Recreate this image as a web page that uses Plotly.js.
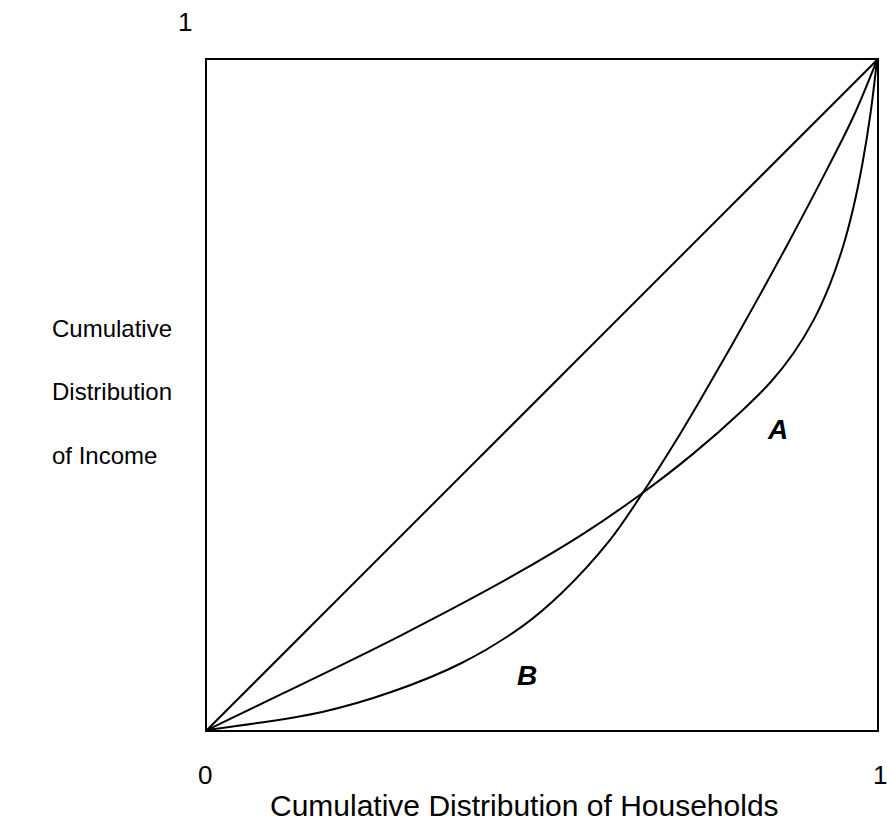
<!DOCTYPE html>
<html>
<head>
<meta charset="utf-8">
<script src="https://cdn.plot.ly/plotly-3.0.1.min.js"></script>
<style>html,body{margin:0;padding:0;background:#fff;}#chart{width:887px;height:824px;}</style>
</head>
<body>
<div id="chart"></div>
<script>
// Line of equality
const equalityX = [0, 1];
const equalityY = [0, 1];

// Lorenz curve A
const curveAX = [0, 0.114, 0.289, 0.458, 0.562, 0.649, 0.724, 0.799, 0.841, 0.875, 0.905, 0.930, 0.950, 0.965, 0.978, 0.990, 1];
const curveAY = [0, 0.055, 0.141, 0.231, 0.293, 0.353, 0.411, 0.477, 0.519, 0.562, 0.611, 0.666, 0.724, 0.781, 0.844, 0.918, 1];

// Lorenz curve B
const curveBX = [0, 0.172, 0.276, 0.380, 0.471, 0.529, 0.601, 0.649, 0.705, 0.736, 0.796, 0.866, 0.925, 0.965, 1];
const curveBY = [0, 0.027, 0.057, 0.100, 0.155, 0.204, 0.283, 0.352, 0.440, 0.492, 0.597, 0.724, 0.836, 0.916, 1];

// Curve labels
const labelText = ["A", "B"];
const labelX = [0.852, 0.478];
const labelY = [0.448, 0.082];

// Texts
const xTitle = "Cumulative Distribution of Households";
const yTitleLines = ["Cumulative", "Distribution", "of Income"];
const tickLow = "0";
const tickHigh = "1";

const FONT = "Liberation Sans, Arial, sans-serif";
const lineStyle = {color: "#000", width: 2};

const traces = [
  {x: equalityX, y: equalityY, mode: "lines", line: lineStyle, hoverinfo: "skip", cliponaxis: false},
  {x: curveAX, y: curveAY, mode: "lines", line: Object.assign({shape: "spline", smoothing: 1}, lineStyle), hoverinfo: "skip", cliponaxis: false},
  {x: curveBX, y: curveBY, mode: "lines", line: Object.assign({shape: "spline", smoothing: 1}, lineStyle), hoverinfo: "skip", cliponaxis: false}
];

const font = (s) => ({family: FONT, size: s, color: "#000"});
const annotations = [];
labelText.forEach((t, i) => annotations.push({
  x: labelX[i], y: labelY[i], xref: "x", yref: "y", text: "<b><i>" + t + "</i></b>",
  showarrow: false, font: font(28), xanchor: "center", yanchor: "middle"
}));
annotations.push({x: -0.0328, y: 1.0567, xref: "paper", yref: "paper", text: tickHigh, showarrow: false, font: font(26), xanchor: "center", yanchor: "middle"});
annotations.push({x: -0.003, y: -0.067, xref: "paper", yref: "paper", text: tickLow, showarrow: false, font: font(26), xanchor: "center", yanchor: "middle"});
annotations.push({x: 1.0045, y: -0.067, xref: "paper", yref: "paper", text: tickHigh, showarrow: false, font: font(26), xanchor: "center", yanchor: "middle"});
annotations.push({x: 0.4746, y: -0.112, xref: "paper", yref: "paper", text: xTitle, showarrow: false, font: font(30), xanchor: "center", yanchor: "middle"});
const yLinePos = [0.6, 0.5045, 0.4104];
yTitleLines.forEach((t, i) => annotations.push({
  x: -0.234, y: yLinePos[i], xref: "paper", yref: "paper", text: t, showarrow: false,
  font: font(24), xanchor: "left", yanchor: "middle"
}));

const axisBase = {range: [0, 1], showgrid: false, zeroline: false, showticklabels: false, ticks: "",
  showline: true, mirror: true, linecolor: "#000", linewidth: 2, fixedrange: true};

const layout = {
  width: 887, height: 824,
  margin: {l: 207, r: 10, t: 60, b: 94, pad: 0},
  paper_bgcolor: "#fff", plot_bgcolor: "#fff",
  showlegend: false,
  xaxis: Object.assign({}, axisBase),
  yaxis: Object.assign({}, axisBase),
  annotations: annotations,
  font: {family: FONT}
};

Plotly.newPlot("chart", traces, layout, {displayModeBar: false, staticPlot: true});
</script>
</body>
</html>
